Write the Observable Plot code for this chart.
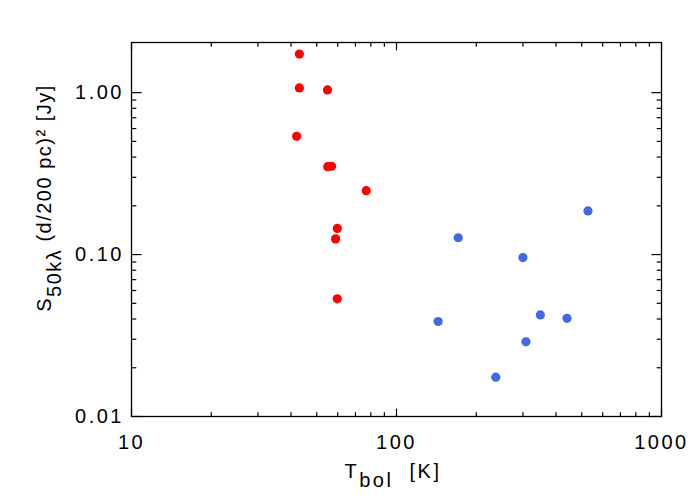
<!DOCTYPE html>
<html><head><meta charset="utf-8">
<script src="https://cdn.jsdelivr.net/npm/d3@7"></script>
<script src="https://cdn.jsdelivr.net/npm/@observablehq/plot@0.6"></script>
<style>
body{margin:0;background:#fff}
#chart svg{display:block}
#chart svg text{letter-spacing:2.5px}
</style>
</head><body><div id="chart"></div>
<script>
// Red sources (Tbol [K], S50kλ [Jy])
const redT = [43.0, 43.0, 54.9, 42.0, 55.0, 56.9, 76.9, 59.8, 58.9, 59.8];
const redS = [1.73, 1.07, 1.04, 0.537, 0.349, 0.351, 0.248, 0.145, 0.125, 0.0533];
// Blue sources
const blueT = [528, 171, 300, 143.6, 349, 440, 308, 237];
const blueS = [0.186, 0.127, 0.0958, 0.0386, 0.0424, 0.0404, 0.0289, 0.0175];

const xMajor = [10, 100, 1000];
const xMinor = [20,30,40,50,60,70,80,90,200,300,400,500,600,700,800,900];
const yMajor = [0.01, 0.1, 1];
const yMinor = [0.02,0.03,0.04,0.05,0.06,0.07,0.08,0.09,0.2,0.3,0.4,0.5,0.6,0.7,0.8,0.9];
const xTickLabels = ["10", "100", "1000"];
const yTickLabels = ["0.01", "0.10", "1.00"];

const data = [
  ...redT.map((t, i) => ({t, s: redS[i], c: "#ff0000"})),
  ...blueT.map((t, i) => ({t, s: blueS[i], c: "#4169e1"}))
];

const font = "'Liberation Sans', Arial, Helvetica, sans-serif";
const W = 700, H = 500, mL = 131, mR = 39, mT = 42, mB = 84;
const noText = () => "";

const svg = Plot.plot({
  width: W, height: H,
  marginLeft: mL, marginRight: mR, marginTop: mT, marginBottom: mB,
  style: {fontFamily: font, color: "black", background: "white", overflow: "visible"},
  x: {type: "log", domain: [10, 1000]},
  y: {type: "log", domain: [0.01, 2.04]},
  marks: [
    Plot.axisX(xMajor, {anchor: "bottom", tickSize: -7.4, tickFormat: noText, label: null, strokeWidth: 1.2}),
    Plot.axisX(xMinor, {anchor: "bottom", tickSize: -3.7, tickFormat: noText, label: null, strokeWidth: 1.2}),
    Plot.axisX(xMajor, {anchor: "top", tickSize: -7.4, tickFormat: noText, label: null, strokeWidth: 1.2}),
    Plot.axisX(xMinor, {anchor: "top", tickSize: -3.7, tickFormat: noText, label: null, strokeWidth: 1.2}),
    Plot.axisY(yMajor, {anchor: "left", tickSize: -10.6, tickFormat: noText, label: null, strokeWidth: 1.2}),
    Plot.axisY(yMinor, {anchor: "left", tickSize: -5.3, tickFormat: noText, label: null, strokeWidth: 1.2}),
    Plot.axisY(yMajor, {anchor: "right", tickSize: -10.6, tickFormat: noText, label: null, strokeWidth: 1.2}),
    Plot.axisY(yMinor, {anchor: "right", tickSize: -5.3, tickFormat: noText, label: null, strokeWidth: 1.2}),
    Plot.axisX(xMajor, {anchor: "bottom", tickSize: 0, tickPadding: 18, fontSize: 20, label: null,
      tickFormat: (d) => xTickLabels[xMajor.indexOf(d)]}),
    Plot.axisY(yMajor, {anchor: "left", tickSize: 0, tickPadding: 7.5, fontSize: 20, label: null,
      tickFormat: (d) => yTickLabels[yMajor.indexOf(d)]}),
    Plot.frame({stroke: "black", strokeWidth: 1.3}),
    Plot.dot(data, {x: "t", y: "s", fill: "c", r: 4.6, stroke: null})
  ]
});

const s = d3.select(svg);
// x-axis title
const xl = s.append("text")
  .attr("x", mL + (W - mL - mR) / 2 - 3).attr("y", 478)
  .attr("text-anchor", "middle")
  .attr("fill", "black")
  .style("font-family", font).style("font-size", "20px").style("letter-spacing", "2.5px")
  .style("white-space", "pre");
xl.append("tspan").text("T");
xl.append("tspan").attr("dy", 9).text("bol");
xl.append("tspan").attr("dy", -9).text("  [K]");

// y-axis title (rotated)
const cy = 198, bx = 51;
const yl = s.append("text")
  .attr("transform", `translate(${bx},${cy}) rotate(-90)`)
  .attr("text-anchor", "middle")
  .attr("fill", "black")
  .style("font-family", font).style("font-size", "20px").style("letter-spacing", "1.5px")
  .style("white-space", "pre");
yl.append("tspan").text("S");
yl.append("tspan").attr("dy", 10).text("50kλ");
yl.append("tspan").attr("dy", -10).text(" (d/200 pc)² [Jy]");

document.getElementById("chart").appendChild(svg);
</script>
</body></html>
